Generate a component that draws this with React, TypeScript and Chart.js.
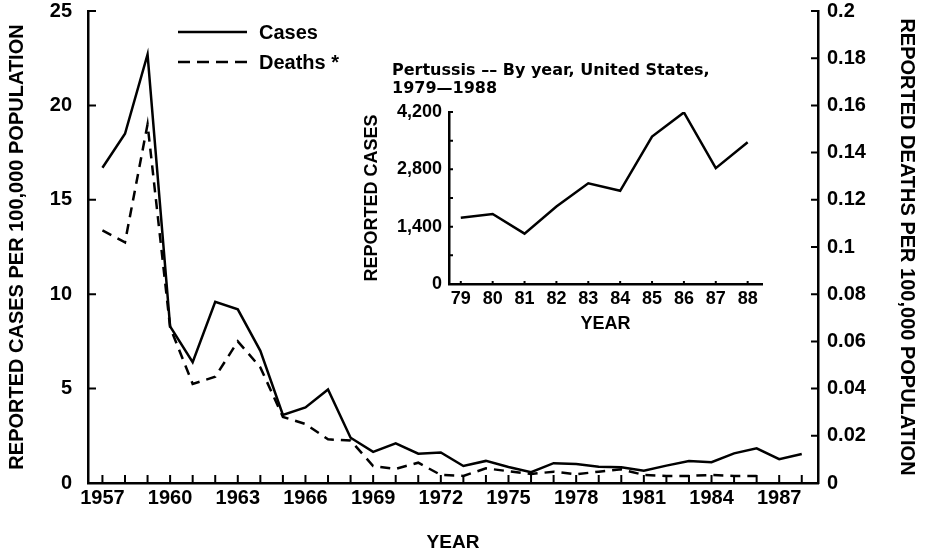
import React, { useEffect, useRef } from 'react';
import { Chart, registerables } from 'chart.js';

Chart.register(...registerables);

// ---------- data ----------
const years = [
  1957, 1958, 1959, 1960, 1961, 1962, 1963, 1964, 1965, 1966, 1967, 1968, 1969, 1970, 1971, 1972,
  1973, 1974, 1975, 1976, 1977, 1978, 1979, 1980, 1981, 1982, 1983, 1984, 1985, 1986, 1987, 1988,
];
const casesPer100k = [
  16.7, 18.5, 22.7, 8.3, 6.4, 9.6, 9.2, 7.0, 3.6, 4.0, 4.95, 2.4, 1.65, 2.1, 1.55, 1.62,
  0.9, 1.17, 0.85, 0.57, 1.05, 1.0, 0.86, 0.84, 0.65, 0.92, 1.17, 1.1, 1.57, 1.84, 1.26, 1.54,
];
const deathYears = [
  1957, 1958, 1959, 1960, 1961, 1962, 1963, 1964, 1965, 1966, 1967, 1968, 1969, 1970, 1971,
  1972, 1973, 1974, 1975, 1976, 1977, 1978, 1979, 1980, 1981, 1982, 1983, 1984, 1985, 1986,
];
const deathsPer100k = [
  0.107, 0.102, 0.152, 0.066, 0.042, 0.045, 0.06, 0.049, 0.028, 0.025, 0.0185, 0.018, 0.0072, 0.006, 0.0086,
  0.0034, 0.003, 0.0062, 0.005, 0.0038, 0.0048, 0.0037, 0.0048, 0.0058, 0.0034, 0.003, 0.003, 0.0034, 0.003, 0.003,
];
const mainXLabelYears = [1957, 1960, 1963, 1966, 1969, 1972, 1975, 1978, 1981, 1984, 1987];

const insetYears = [79, 80, 81, 82, 83, 84, 85, 86, 87, 88];
const insetCases = [1620, 1710, 1230, 1890, 2460, 2276, 3600, 4190, 2830, 3460];
const insetLabelValues = [0, 1400, 2800, 4200];

const legendLabels = ['Cases', 'Deaths *'];
const insetTitleLines = ['Pertussis –– By year, United States,', '1979—1988'];

// ---------- helpers ----------
const FONT = 'Liberation Sans, Arial, sans-serif';
const TICK_COLOR = '#000';

type TickConf = { [id: string]: { len: number; width: number } };

const makeInnerTicks = (id: string, conf: TickConf) => ({
  id,
  afterDraw(chart: any) {
    const ctx = chart.ctx;
    Object.keys(conf).forEach((sid) => {
      const s = chart.scales[sid];
      if (!s) return;
      const c = conf[sid];
      ctx.save();
      ctx.strokeStyle = TICK_COLOR;
      ctx.lineWidth = c.width;
      ctx.setLineDash([]);
      ctx.beginPath();
      s.ticks.forEach((t: any) => {
        const p = s.getPixelForValue(t.value);
        if (s.isHorizontal()) {
          ctx.moveTo(p, s.top);
          ctx.lineTo(p, s.top - c.len);
        } else if (s.position === 'left') {
          ctx.moveTo(s.right, p);
          ctx.lineTo(s.right + c.len, p);
        } else {
          ctx.moveTo(s.left, p);
          ctx.lineTo(s.left - c.len, p);
        }
      });
      ctx.stroke();
      ctx.restore();
    });
  },
});

const customLegend = {
  id: 'customLegend',
  afterDraw(chart: any) {
    const ctx = chart.ctx;
    const ds = chart.data.datasets;
    ctx.save();
    ds.forEach((d: any, i: number) => {
      const y = 32 + i * 30;
      ctx.strokeStyle = '#000';
      ctx.lineWidth = 2.5;
      ctx.setLineDash(d.borderDash ? [12, 7] : []);
      ctx.beginPath();
      ctx.moveTo(178, y);
      ctx.lineTo(247, y);
      ctx.stroke();
      ctx.setLineDash([]);
      ctx.fillStyle = '#000';
      ctx.font = `bold 20px ${FONT}`;
      ctx.textBaseline = 'middle';
      ctx.textAlign = 'left';
      ctx.fillText(d.label, 259, y + 1);
    });
    ctx.restore();
  },
};

const insetTitle = {
  id: 'insetTitle',
  afterDraw(chart: any) {
    const ctx = chart.ctx;
    ctx.save();
    ctx.fillStyle = '#000';
    ctx.font = 'bold 16px DejaVu Sans, sans-serif';
    ctx.textBaseline = 'middle';
    ctx.textAlign = 'left';
    insetTitleLines.forEach((t, i) => ctx.fillText(t, 52, 21 + i * 18));
    ctx.restore();
  },
};

const fmt = (v: number) => String(Math.round(v * 1000) / 1000);
const noPad = (s: any) => {
  s.paddingTop = 0;
  s.paddingBottom = 0;
  s.paddingLeft = 0;
  s.paddingRight = 0;
};

export default function App() {
  const mainRef = useRef<HTMLCanvasElement>(null);
  const insetRef = useRef<HTMLCanvasElement>(null);

  useEffect(() => {
    Chart.defaults.color = '#000';
    const main = new Chart(mainRef.current as HTMLCanvasElement, {
      type: 'line',
      data: {
        datasets: [
          {
            label: legendLabels[0],
            data: years.map((x, i) => ({ x, y: casesPer100k[i] })),
            borderColor: '#000',
            borderWidth: 2.5,
            pointRadius: 0,
            tension: 0,
            yAxisID: 'y',
          },
          {
            label: legendLabels[1],
            data: deathYears.map((x, i) => ({ x, y: deathsPer100k[i] })),
            borderColor: '#000',
            borderWidth: 2.5,
            borderDash: [10, 7],
            pointRadius: 0,
            tension: 0,
            yAxisID: 'y2',
          },
        ],
      },
      options: {
        animation: false,
        responsive: false,
        devicePixelRatio: 1,
        layout: { padding: { left: 0, right: 0, top: 11, bottom: 0 } },
        plugins: {
          legend: { display: false },
          tooltip: { enabled: false },
        },
        scales: {
          x: {
            type: 'linear',
            position: 'bottom',
            min: 1956.36,
            max: 1988.72,
            afterBuildTicks: (s: any) => {
              s.ticks = years.map((v) => ({ value: v }));
            },
            afterFit: (s: any) => {
              s.height = 73;
              noPad(s);
            },
            grid: { display: false, drawTicks: false },
            border: { display: true, color: '#000', width: 2.5 },
            ticks: {
              autoSkip: false,
              maxRotation: 0,
              minRotation: 0,
              padding: 3,
              font: { family: FONT, size: 20, weight: 'bold' },
              callback: (v: any) => (mainXLabelYears.includes(Number(v)) ? String(v) : ''),
            },
            title: {
              display: true,
              text: 'YEAR',
              font: { family: FONT, size: 19, weight: 'bold' },
              padding: { top: 0, bottom: 2 },
            },
          },
          y: {
            type: 'linear',
            position: 'left',
            min: 0,
            max: 25,
            afterFit: (s: any) => {
              s.width = 88;
              noPad(s);
            },
            grid: { display: false, drawTicks: false },
            border: { display: true, color: '#000', width: 2.5 },
            ticks: {
              stepSize: 5,
              padding: 16,
              font: { family: FONT, size: 20, weight: 'bold' },
              callback: (v: any) => fmt(Number(v)),
            },
            title: {
              display: true,
              text: 'REPORTED CASES PER 100,000 POPULATION',
              font: { family: FONT, size: 20, weight: 'bold' },
              padding: { top: 5, bottom: 0 },
            },
          },
          y2: {
            type: 'linear',
            position: 'right',
            min: 0,
            max: 0.2,
            afterFit: (s: any) => {
              s.width = 108;
              noPad(s);
            },
            grid: { display: false, drawTicks: false },
            border: { display: true, color: '#000', width: 2.5 },
            ticks: {
              stepSize: 0.02,
              padding: 9,
              font: { family: FONT, size: 20, weight: 'bold' },
              callback: (v: any) => fmt(Number(v)),
            },
            title: {
              display: true,
              text: 'REPORTED DEATHS PER 100,000 POPULATION',
              font: { family: FONT, size: 20, weight: 'bold' },
              padding: { top: 7, bottom: 0 },
            },
          },
        },
      } as any,
      plugins: [
        makeInnerTicks('mainTicks', {
          x: { len: 8, width: 2 },
          y: { len: 8, width: 2 },
          y2: { len: 7, width: 2 },
        }),
        customLegend,
      ],
    });

    const inset = new Chart(insetRef.current as HTMLCanvasElement, {
      type: 'line',
      data: {
        datasets: [
          {
            label: 'Reported cases',
            data: insetYears.map((x, i) => ({ x, y: insetCases[i] })),
            borderColor: '#000',
            borderWidth: 2.5,
            pointRadius: 0,
            tension: 0,
          },
        ],
      },
      options: {
        animation: false,
        responsive: false,
        devicePixelRatio: 1,
        layout: { padding: { left: 0, right: 18, top: 62, bottom: 0 } },
        plugins: {
          legend: { display: false },
          tooltip: { enabled: false },
        },
        scales: {
          x: {
            type: 'linear',
            min: 78.63,
            max: 88.45,
            afterBuildTicks: (s: any) => {
              s.ticks = insetYears.map((v) => ({ value: v }));
            },
            afterFit: (s: any) => {
              s.height = 66;
              noPad(s);
            },
            grid: { display: false, drawTicks: false },
            border: { display: true, color: '#000', width: 2.5 },
            ticks: {
              autoSkip: false,
              maxRotation: 0,
              minRotation: 0,
              padding: 4,
              font: { family: FONT, size: 18, weight: 'bold' },
              callback: (v: any) => String(v),
            },
            title: {
              display: true,
              text: 'YEAR',
              font: { family: FONT, size: 18, weight: 'bold' },
              padding: { top: 0, bottom: 15 },
            },
          },
          y: {
            type: 'linear',
            min: 0,
            max: 4200,
            afterFit: (s: any) => {
              s.width = 109;
              noPad(s);
            },
            grid: { display: false, drawTicks: false },
            border: { display: true, color: '#000', width: 2.5 },
            ticks: {
              stepSize: 700,
              padding: 7,
              font: { family: FONT, size: 18, weight: 'bold' },
              callback: (v: any) =>
                insetLabelValues.includes(Number(v)) ? Number(v).toLocaleString('en-US') : '',
            },
            title: {
              display: true,
              text: 'REPORTED CASES',
              font: { family: FONT, size: 18, weight: 'bold' },
              padding: { top: 21, bottom: 0 },
            },
          },
        },
      } as any,
      plugins: [
        makeInnerTicks('insetTicks', {
          x: { len: 3, width: 2 },
          y: { len: 4, width: 2 },
        }),
        insetTitle,
      ],
    });

    return () => {
      main.destroy();
      inset.destroy();
    };
  }, []);

  return (
    <div
      style={{
        position: 'fixed',
        left: 0,
        top: 0,
        width: 926,
        height: 556,
        background: '#fff',
        overflow: 'hidden',
      }}
    >
      <canvas
        ref={mainRef}
        width={926}
        height={556}
        style={{ position: 'absolute', left: 0, top: 0, width: 926, height: 556, display: 'block' }}
      />
      <canvas
        ref={insetRef}
        width={440}
        height={300}
        style={{ position: 'absolute', left: 340, top: 50, width: 440, height: 300, display: 'block' }}
      />
    </div>
  );
}
